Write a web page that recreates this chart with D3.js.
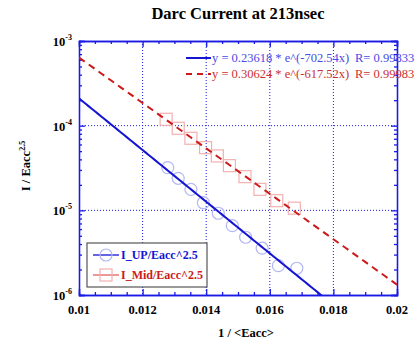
<!DOCTYPE html>
<html>
<head>
<meta charset="utf-8">
<script src="https://cdn.jsdelivr.net/npm/d3@7"></script>
<style>
  body { margin: 0; background: #fff; }
  text { font-family: "Liberation Serif", "DejaVu Serif", serif; }
</style>
</head>
<body>
<svg id="chart" width="417" height="345"></svg>
<script>
// measured points: 1/<Eacc> vs I/Eacc^2.5
const upX = [0.01279, 0.01312, 0.01352, 0.01391, 0.01438, 0.01482, 0.01524, 0.01576, 0.01627, 0.01685];
const upY = [3.19e-5, 2.39e-5, 1.77e-5, 1.23e-5, 9.24e-6, 6.60e-6, 4.81e-6, 3.57e-6, 2.22e-6, 2.07e-6];
const midX = [0.01274, 0.01312, 0.01352, 0.01398, 0.01435, 0.01473, 0.01522, 0.01569, 0.01622, 0.01677];
const midY = [1.19e-4, 9.32e-5, 7.10e-5, 5.50e-5, 4.39e-5, 3.37e-5, 2.50e-5, 1.77e-5, 1.30e-5, 1.06e-5];

// exponential fits y = a * exp(b x)
const upFit = { a: 0.23618, b: -702.54, r: 0.99833 };
const midFit = { a: 0.30624, b: -617.52, r: 0.99983 };

const xTicks = [0.01, 0.012, 0.014, 0.016, 0.018, 0.02];
const yTicks = [1e-6, 1e-5, 1e-4, 1e-3];

const svg = d3.select("#chart");
const margin = { top: 41, right: 20, bottom: 50, left: 79 };
const width = 417, height = 345;
const axisColor = "#1a1ae6";

const x = d3.scaleLinear().domain([0.01, 0.02]).range([margin.left, width - margin.right]);
const y = d3.scaleLog().domain([1e-6, 1e-3]).range([height - margin.bottom, margin.top]);

svg.append("defs").append("clipPath").attr("id", "clip")
  .append("rect")
  .attr("x", margin.left).attr("y", margin.top)
  .attr("width", x.range()[1] - x.range()[0])
  .attr("height", y.range()[0] - y.range()[1]);

// grid
const grid = svg.append("g")
  .attr("stroke", axisColor).attr("stroke-width", 1).attr("stroke-dasharray", "1,2");
grid.selectAll("line.gx").data(xTicks.slice(1, -1)).join("line")
  .attr("x1", d => x(d)).attr("x2", d => x(d))
  .attr("y1", y.range()[1]).attr("y2", y.range()[0]);
grid.selectAll("line.gy").data(yTicks.slice(1, -1)).join("line")
  .attr("y1", d => y(d)).attr("y2", d => y(d))
  .attr("x1", x.range()[0]).attr("x2", x.range()[1]);

// axes, ticks inward on all four sides
const xMinor = d3.range(0.0105, 0.02, 0.0005).filter(v => Math.abs(v * 500 - Math.round(v * 500)) > 1e-6);
const yMinor = [];
[1e-6, 1e-5, 1e-4].forEach(p => { for (let k = 2; k <= 9; k++) yMinor.push(p * k); });

function fmt() { return ""; }

svg.append("g").attr("transform", `translate(0,${y.range()[0]})`)
  .call(d3.axisTop(x).tickValues(xTicks).tickSize(6).tickFormat(fmt));
svg.append("g").attr("transform", `translate(0,${y.range()[0]})`)
  .call(d3.axisTop(x).tickValues(xMinor).tickSize(3).tickFormat(fmt));
svg.append("g").attr("transform", `translate(0,${y.range()[1]})`)
  .call(d3.axisBottom(x).tickValues(xTicks).tickSize(6).tickFormat(fmt));
svg.append("g").attr("transform", `translate(0,${y.range()[1]})`)
  .call(d3.axisBottom(x).tickValues(xMinor).tickSize(3).tickFormat(fmt));
svg.append("g").attr("transform", `translate(${x.range()[0]},0)`)
  .call(d3.axisRight(y).tickValues(yTicks).tickSize(6).tickFormat(fmt));
svg.append("g").attr("transform", `translate(${x.range()[0]},0)`)
  .call(d3.axisRight(y).tickValues(yMinor).tickSize(3).tickFormat(fmt));
svg.append("g").attr("transform", `translate(${x.range()[1]},0)`)
  .call(d3.axisLeft(y).tickValues(yTicks).tickSize(6).tickFormat(fmt));
svg.append("g").attr("transform", `translate(${x.range()[1]},0)`)
  .call(d3.axisLeft(y).tickValues(yMinor).tickSize(3).tickFormat(fmt));
svg.selectAll(".domain, .tick line").attr("stroke", axisColor).attr("stroke-width", 1.3);

// tick labels
svg.append("g").selectAll("text").data(xTicks).join("text")
  .attr("x", d => x(d)).attr("y", y.range()[0] + 19)
  .attr("text-anchor", "middle").attr("font-size", 12.5).attr("font-weight", "bold")
  .text(d => d === 0.02 ? "0.02" : d3.format(".3~f")(d));

const yl = svg.append("g").selectAll("text").data(yTicks).join("text")
  .attr("x", margin.left - 7).attr("y", d => y(d) + 5)
  .attr("text-anchor", "end").attr("font-size", 12.5).attr("font-weight", "bold");
yl.append("tspan").text("10");
yl.append("tspan").attr("dy", -6).attr("font-size", 8).text(d => Math.round(Math.log10(d)));

// data markers
const plot = svg.append("g").attr("clip-path", "url(#clip)");
plot.selectAll("circle").data(upX.map((v, i) => [v, upY[i]])).join("circle")
  .attr("cx", d => x(d[0])).attr("cy", d => y(d[1])).attr("r", 6)
  .attr("fill", "none").attr("stroke", "#b4b8f2").attr("stroke-width", 1.2);
plot.selectAll("rect.m").data(midX.map((v, i) => [v, midY[i]])).join("rect")
  .attr("class", "m")
  .attr("x", d => x(d[0]) - 6).attr("y", d => y(d[1]) - 6)
  .attr("width", 12).attr("height", 12)
  .attr("fill", "none").attr("stroke", "#f2b0b0").attr("stroke-width", 1.2);

// fit curves
const xs = d3.range(0.01, 0.02001, 0.0001);
const line = d3.line().x(d => x(d[0])).y(d => y(Math.max(d[1], 1e-7)));
plot.append("path")
  .attr("d", line(xs.map(v => [v, upFit.a * Math.exp(upFit.b * v)])))
  .attr("fill", "none").attr("stroke", "#1414d2").attr("stroke-width", 2);
plot.append("path")
  .attr("d", line(xs.map(v => [v, midFit.a * Math.exp(midFit.b * v)])))
  .attr("fill", "none").attr("stroke", "#cc1a1a").attr("stroke-width", 2)
  .attr("stroke-dasharray", "7,5");

// fit legend top-right
const fits = [
  { f: upFit, line: "#1414d2", text: "#4a4ae6", dash: null },
  { f: midFit, line: "#cc1a1a", text: "#cc3030", dash: "6,5" }
];
fits.forEach((d, i) => {
  const yy = 58 + i * 16;
  svg.append("line").attr("x1", 186).attr("x2", 211).attr("y1", yy).attr("y2", yy)
    .attr("stroke", d.line).attr("stroke-width", 2).attr("stroke-dasharray", d.dash);
  svg.append("text").attr("x", 212).attr("y", yy + 4).attr("font-size", 12.5).attr("fill", d.text)
    .text(`y = ${d.f.a} * e^(${d.f.b}x)`);
  svg.append("text").attr("x", 355).attr("y", yy + 4).attr("font-size", 12.5).attr("fill", d.text)
    .text(`R= ${d.f.r}`);
});

// series legend bottom-left
const lg = svg.append("g");
lg.append("rect").attr("x", 87).attr("y", 243).attr("width", 120).attr("height", 44)
  .attr("fill", "#fff").attr("stroke", "#555").attr("stroke-width", 1.2);
const series = [
  { name: "I_UP/Eacc^2.5", color: "#1414d2", mark: "#b4b8f2", shape: "circle" },
  { name: "I_Mid/Eacc^2.5", color: "#cc1a1a", mark: "#f2b0b0", shape: "square" }
];
series.forEach((s, i) => {
  const yy = 255 + i * 20;
  lg.append("line").attr("x1", 93).attr("x2", 119).attr("y1", yy).attr("y2", yy)
    .attr("stroke", s.shape === "circle" ? s.color : "#e06060").attr("stroke-width", 1.3);
  if (s.shape === "circle") {
    lg.append("circle").attr("cx", 106).attr("cy", yy).attr("r", 6)
      .attr("fill", "none").attr("stroke", s.mark).attr("stroke-width", 1.2);
  } else {
    lg.append("rect").attr("x", 100).attr("y", yy - 6).attr("width", 12).attr("height", 12)
      .attr("fill", "none").attr("stroke", s.mark).attr("stroke-width", 1.2);
  }
  lg.append("text").attr("x", 121).attr("y", yy + 4).attr("font-size", 12)
    .attr("font-weight", "bold").attr("fill", s.color).text(s.name);
});

// titles
svg.append("text").attr("x", 238).attr("y", 19).attr("text-anchor", "middle")
  .attr("font-size", 16.5).attr("font-weight", "bold").text("Darc Current at 213nsec");
svg.append("text").attr("x", 246).attr("y", 337).attr("text-anchor", "middle")
  .attr("font-size", 12.5).attr("font-weight", "bold").text("1 / <Eacc>");
const yt = svg.append("text").attr("transform", "translate(30,166) rotate(-90)")
  .attr("text-anchor", "middle").attr("font-size", 12.5).attr("font-weight", "bold");
yt.append("tspan").text("I / Eacc");
yt.append("tspan").attr("dy", -5).attr("font-size", 8).text("2.5");
</script>
</body>
</html>
